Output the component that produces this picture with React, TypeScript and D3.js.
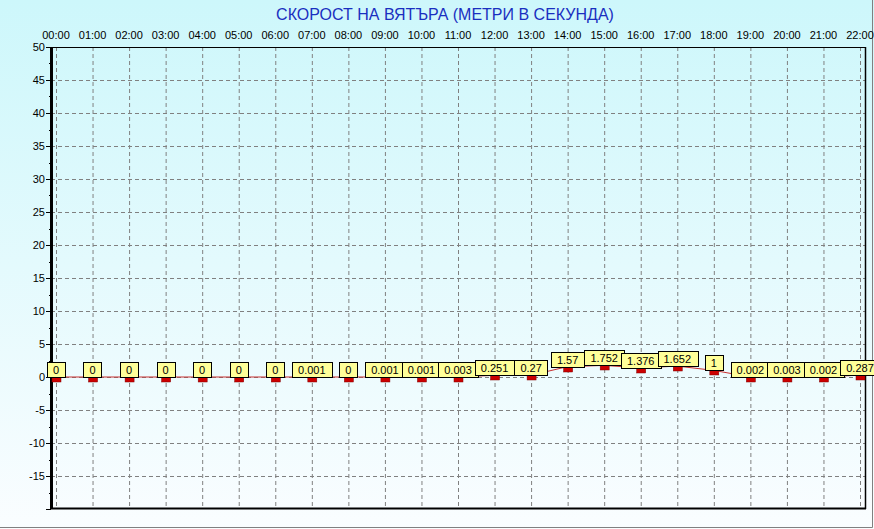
import * as d3 from "d3";
import { useEffect, useRef } from "react";

const WIDTH = 874;
const HEIGHT = 529;
const PLOT = { left: 51, right: 865, top: 47, bottom: 509 };
const TITLE = "СКОРОСТ НА ВЯТЪРА (МЕТРИ В СЕКУНДА)";

const HOURS = [
  "00:00", "01:00", "02:00", "03:00", "04:00", "05:00", "06:00", "07:00",
  "08:00", "09:00", "10:00", "11:00", "12:00", "13:00", "14:00", "15:00",
  "16:00", "17:00", "18:00", "19:00", "20:00", "21:00", "22:00",
];
const VALUES = [
  0, 0, 0, 0, 0, 0, 0, 0.001, 0, 0.001, 0.001, 0.003, 0.251, 0.27, 1.57,
  1.752, 1.376, 1.652, 1, 0.002, 0.003, 0.002, 0.287,
];
const Y_TICKS = [50, 45, 40, 35, 30, 25, 20, 15, 10, 5, 0, -5, -10, -15];

const FONT = "Arial, 'Liberation Sans', sans-serif";

export default function App() {
  const svgRef = useRef<SVGSVGElement>(null);

  useEffect(() => {
    if (!svgRef.current) return;
    const svg = d3.select(svgRef.current);
    svg.selectAll("*").remove();

    const x = d3.scaleLinear().domain([0, 22]).range([56, 860]);
    const y = d3.scaleLinear().domain([-20, 50]).range([PLOT.bottom, PLOT.top]);

    // fondo
    const defs = svg.append("defs");
    const grad = defs
      .append("linearGradient")
      .attr("id", "bg")
      .attr("x1", 0)
      .attr("y1", 0)
      .attr("x2", 0)
      .attr("y2", 1);
    grad.append("stop").attr("offset", "0%").attr("stop-color", "#cdf7fb");
    grad.append("stop").attr("offset", "100%").attr("stop-color", "#fafdff");
    svg
      .append("rect")
      .attr("width", WIDTH)
      .attr("height", HEIGHT)
      .attr("fill", "url(#bg)");

    // marco exterior
    svg
      .append("path")
      .attr("d", `M0,${HEIGHT - 1.5}H${WIDTH - 1.5}V0`)
      .attr("fill", "none")
      .attr("stroke", "#808080")
      .attr("stroke-width", 1);

    // titulo
    svg
      .append("text")
      .attr("x", 445)
      .attr("y", 20)
      .attr("text-anchor", "middle")
      .attr("font-family", FONT)
      .attr("font-size", 16)
      .attr("fill", "#1a2fc0")
      .text(TITLE);

    // rejilla
    const grid = svg.append("g").attr("stroke", "#808080").attr("stroke-dasharray", "4,3");
    HOURS.forEach((_, i) => {
      grid
        .append("line")
        .attr("x1", x(i) + 0.5)
        .attr("x2", x(i) + 0.5)
        .attr("y1", PLOT.top)
        .attr("y2", PLOT.bottom);
    });
    Y_TICKS.forEach((t) => {
      grid
        .append("line")
        .attr("x1", PLOT.left)
        .attr("x2", PLOT.right)
        .attr("y1", Math.round(y(t)) + 0.5)
        .attr("y2", Math.round(y(t)) + 0.5);
    });

    // etiquetas de horas
    svg
      .append("g")
      .selectAll("text")
      .data(HOURS)
      .join("text")
      .attr("x", (_, i) => x(i))
      .attr("y", 39)
      .attr("text-anchor", "middle")
      .attr("font-family", FONT)
      .attr("font-size", 11)
      .attr("fill", "#000")
      .text((d) => d);

    // eje Y
    const yAxis = svg.append("g");
    d3.range(-20, 50.1, 2.5).forEach((t) => {
      const major = t % 5 === 0;
      yAxis
        .append("line")
        .attr("x1", PLOT.left - (major ? 5 : 2))
        .attr("x2", PLOT.left)
        .attr("y1", Math.round(y(t)) + 0.5)
        .attr("y2", Math.round(y(t)) + 0.5)
        .attr("stroke", "#000");
    });
    yAxis
      .selectAll("text")
      .data(Y_TICKS)
      .join("text")
      .attr("x", PLOT.left - 6)
      .attr("y", (d) => y(d) + 4)
      .attr("text-anchor", "end")
      .attr("font-family", FONT)
      .attr("font-size", 11)
      .attr("fill", "#000")
      .text((d) => d);

    // bordes
    svg
      .append("line")
      .attr("x1", PLOT.left)
      .attr("x2", PLOT.right)
      .attr("y1", PLOT.top + 0.5)
      .attr("y2", PLOT.top + 0.5)
      .attr("stroke", "#000");
    svg
      .append("line")
      .attr("x1", PLOT.right + 0.5)
      .attr("x2", PLOT.right + 0.5)
      .attr("y1", PLOT.top)
      .attr("y2", PLOT.bottom)
      .attr("stroke", "#000")
      .attr("stroke-width", 1.5);
    svg
      .append("line")
      .attr("x1", PLOT.left)
      .attr("x2", PLOT.right + 1)
      .attr("y1", PLOT.bottom - 0.5)
      .attr("y2", PLOT.bottom - 0.5)
      .attr("stroke", "#000")
      .attr("stroke-width", 2);
    svg
      .append("line")
      .attr("x1", PLOT.left + 0.5)
      .attr("x2", PLOT.left + 0.5)
      .attr("y1", PLOT.top)
      .attr("y2", PLOT.bottom)
      .attr("stroke", "#000")
      .attr("stroke-width", 3);

    // linea
    const line = d3
      .line<number>()
      .x((_, i) => x(i))
      .y((d) => y(d));
    svg
      .append("path")
      .datum(VALUES)
      .attr("d", line)
      .attr("fill", "none")
      .attr("stroke", "#c83030")
      .attr("stroke-width", 1);

    // marcadores y etiquetas
    const pts = svg.append("g");
    VALUES.forEach((v, i) => {
      const px = x(i);
      const py = Math.round(y(v));
      pts
        .append("rect")
        .attr("x", px - 4)
        .attr("y", py)
        .attr("width", 9)
        .attr("height", 5)
        .attr("fill", "#cc0000")
        .attr("stroke", "#800000")
        .attr("stroke-width", 0.5);
      const g = pts.append("g");
      const box = g.append("rect");
      const txt = g
        .append("text")
        .attr("x", px)
        .attr("y", py - 3.5)
        .attr("text-anchor", "middle")
        .attr("font-family", FONT)
        .attr("font-size", 11)
        .attr("fill", "#000")
        .text(String(v));
      const w = (txt.node() as SVGTextElement).getComputedTextLength() + 12;
      box
        .attr("x", Math.round(px - w / 2) + 0.5)
        .attr("y", py - 15 + 0.5)
        .attr("width", Math.round(w))
        .attr("height", 15)
        .attr("fill", "#ffff99")
        .attr("stroke", "#000");
    });
  }, []);

  return (
    <div style={{ position: "absolute", left: 0, top: 0 }}>
      <svg ref={svgRef} width={WIDTH} height={HEIGHT} style={{ display: "block" }} />
    </div>
  );
}
